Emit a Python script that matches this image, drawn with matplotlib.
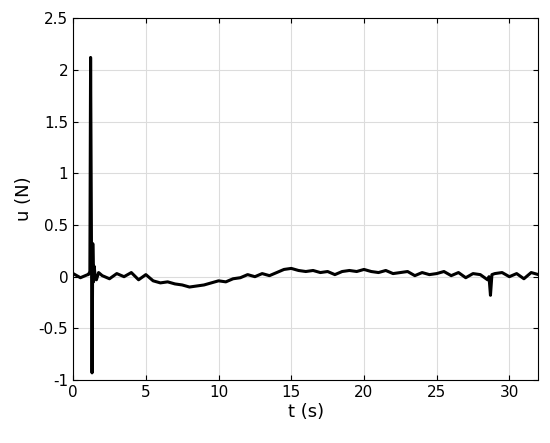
import matplotlib.pyplot as plt
import numpy as np

# baseline readings every 0.5 s from t=0 to t=32 (u in N)
u_main = [0.03,-0.01,0.02,0.04,0.01,-0.02,0.03,0.0,0.04,-0.03,
          0.02,-0.04,-0.06,-0.05,-0.07,-0.08,-0.1,-0.09,-0.08,-0.06,
          -0.04,-0.05,-0.02,-0.01,0.02,0.0,0.03,0.01,0.04,0.07,
          0.08,0.06,0.05,0.06,0.04,0.05,0.02,0.05,0.06,0.05,
          0.07,0.05,0.04,0.06,0.03,0.04,0.05,0.01,0.04,0.02,
          0.03,0.05,0.01,0.04,-0.01,0.03,0.02,-0.03,0.03,0.04,
          0.0,0.03,-0.02,0.04,0.02]
t_main = np.arange(len(u_main)) * 0.5

# spike near t=1.2 s
t_spike = [1.05,1.15,1.2,1.25,1.3,1.35,1.4,1.45,1.5,1.6,1.75]
u_spike = [0.02,0.05,2.12,0.6,-0.93,0.32,-0.05,0.1,0.02,-0.03,0.04]

# small dip near t=28.7 s
t_dip = [28.6,28.7,28.8]
u_dip = [0.0,-0.18,0.02]

mask = ~(((t_main > 1.0) & (t_main < 1.8)) | ((t_main > 28.55) & (t_main < 28.85)))
t_all = np.concatenate([t_main[mask], t_spike, t_dip])
u_all = np.concatenate([np.array(u_main)[mask], u_spike, u_dip])
order = np.argsort(t_all)

fig = plt.figure(figsize=(5.5, 4.43), dpi=100)
ax = fig.add_axes([0.133, 0.142, 0.846, 0.817])
ax.plot(t_all[order], u_all[order], color='black', lw=2.2)
ax.set_xlim(0, 32)
ax.set_ylim(-1, 2.5)
ax.set_xticks(np.arange(0, 31, 5))
ax.set_yticks(np.arange(-1, 2.51, 0.5))
ax.set_yticklabels(['-1','-0.5','0','0.5','1','1.5','2','2.5'])
ax.grid(True, color='#dcdcdc', lw=0.8)
ax.tick_params(direction='in', labelsize=11, top=True, right=True)
ax.set_xlabel('t (s)', fontsize=13, labelpad=2)
ax.set_ylabel('u (N)', fontsize=13)
fig.savefig('out.png', dpi=100)
